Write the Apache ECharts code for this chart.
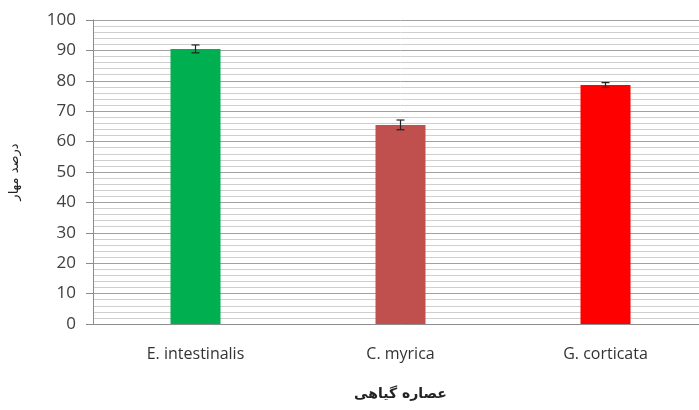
<!DOCTYPE html>
<html>
<head>
<meta charset="utf-8">
<script src="https://cdn.jsdelivr.net/npm/echarts@6/dist/echarts.min.js"></script>
<style>
  html, body { margin: 0; padding: 0; background: #fff; overflow: hidden; }
  #chart { width: 708px; height: 410px; }
</style>
</head>
<body>
<div id="chart"></div>
<script>
// داده‌ها
var categories = ['E. intestinalis', 'C. myrica', 'G. corticata'];
var values = [90.5, 65.5, 78.6];
var errors = [1.3, 1.6, 0.8];
var barColors = ['#00B050', '#C0504D', '#FF0000'];
var yTicks = { min: 0, max: 100, interval: 10 };

var chart = echarts.init(document.getElementById('chart'));

var option = {
  backgroundColor: '#fff',
  animation: false,
  grid: { left: 93, right: 0, top: 20, bottom: 86 },
  xAxis: {
    type: 'category',
    data: categories,
    name: 'عصاره گیاهی',
    nameLocation: 'middle',
    nameGap: 63,
    nameTextStyle: { fontFamily: 'DejaVu Sans', fontSize: 14, color: '#222', fontWeight: 'bold' },
    axisLine: { lineStyle: { color: '#8c8c8c', width: 1 } },
    axisTick: { show: false },
    axisLabel: { margin: 22, fontFamily: 'Open Sans', fontSize: 16, color: '#333' }
  },
  yAxis: {
    type: 'value',
    min: yTicks.min,
    max: yTicks.max,
    interval: yTicks.interval,
    name: 'درصد مهار',
    nameLocation: 'middle',
    nameGap: 72,
    nameTextStyle: { fontFamily: 'DejaVu Sans', fontSize: 13, color: '#222' },
    axisLine: { show: true, lineStyle: { color: '#8c8c8c', width: 1 } },
    axisTick: { show: true, length: 7, lineStyle: { color: '#8c8c8c' } },
    axisLabel: { margin: 17, fontFamily: 'Open Sans', fontSize: 17, color: '#404040' },
    splitLine: { show: true, lineStyle: { color: '#a0a0a0', width: 1 } },
    minorTick: { show: false, splitNumber: 5 },
    minorSplitLine: { show: true, lineStyle: { color: '#cfcfcf', width: 1 } }
  },
  series: [
    {
      type: 'bar',
      barWidth: 50,
      data: values.map(function (v, i) {
        return { value: v, itemStyle: { color: barColors[i] } };
      }),
      z: 2
    },
    {
      type: 'custom',
      z: 3,
      data: values.map(function (v, i) { return [i, v - errors[i], v + errors[i]]; }),
      renderItem: function (params, api) {
        var x = api.value(0);
        var lo = api.coord([x, api.value(1)]);
        var hi = api.coord([x, api.value(2)]);
        var cap = 4;
        var style = { stroke: '#222', lineWidth: 1.2 };
        return {
          type: 'group',
          children: [
            { type: 'line', shape: { x1: lo[0], y1: lo[1], x2: hi[0], y2: hi[1] }, style: style },
            { type: 'line', shape: { x1: hi[0] - cap, y1: hi[1], x2: hi[0] + cap, y2: hi[1] }, style: style },
            { type: 'line', shape: { x1: lo[0] - cap, y1: lo[1], x2: lo[0] + cap, y2: lo[1] }, style: style }
          ]
        };
      }
    }
  ]
};

chart.setOption(option);
</script>
</body>
</html>
